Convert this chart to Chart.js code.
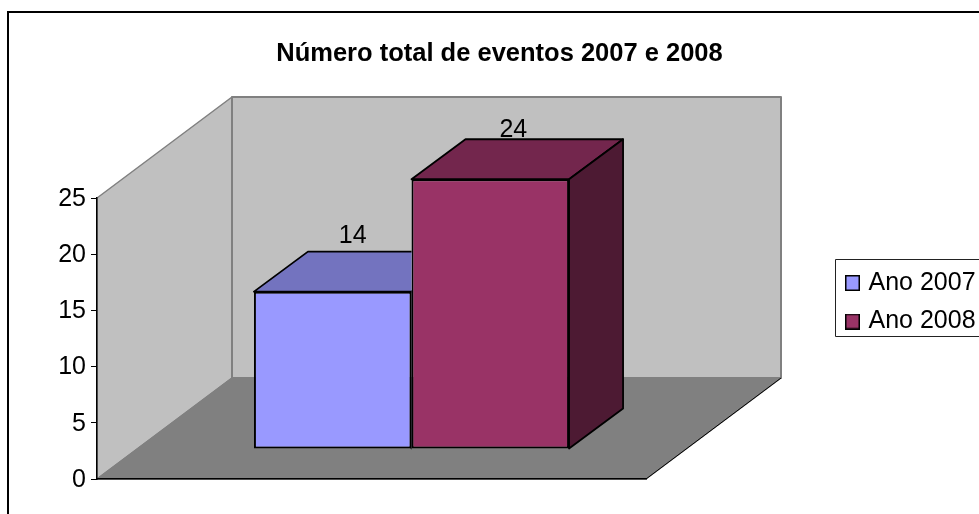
<!DOCTYPE html>
<html>
<head>
<meta charset="utf-8">
<style>
  html, body { margin: 0; background: #fff; }
  canvas { display: block; }
</style>
</head>
<body>
<canvas id="myChart" width="979" height="514"></canvas>
<script src="https://cdn.jsdelivr.net/npm/chart.js@4"></script>
<script>
const categories = [''];
const seriesNames = ['Ano 2007', 'Ano 2008'];
const values2007 = [14];
const values2008 = [24];
const yTicks = [0, 5, 10, 15, 20, 25];
const chartTitle = 'Número total de eventos 2007 e 2008';

const FONT = '"Liberation Sans", Arial, sans-serif';

// depth of the box: back wall, bar front, bar back (pixels from the front edge)
const WALL_DX = 135, WALL_DY = -101;
const BAR_DX = 40, BAR_DY = -30;
const BOX_DX = 54, BOX_DY = -40;

function poly(c, pts, fill, stroke, lw) {
    c.beginPath();
    pts.forEach((p, i) => i ? c.lineTo(p[0], p[1]) : c.moveTo(p[0], p[1]));
    c.closePath();
    if (fill) { c.fillStyle = fill; c.fill(); }
    if (stroke) { c.strokeStyle = stroke; c.lineWidth = lw; c.lineJoin = 'round'; c.stroke(); }
}

// legend swatch, wider than the box Chart.js reserves so the text sits closer
function swatch(color) {
    const s = document.createElement('canvas');
    s.width = 15;
    s.height = 16;
    const c = s.getContext('2d');
    c.fillStyle = color;
    c.fillRect(0, 0, 15, 16);
    c.strokeStyle = '#000';
    c.lineWidth = 1.5;
    c.strokeRect(0.75, 0.75, 13.5, 14.5);
    return s;
}

const box3d = {
    id: 'box3d',
    afterLayout(chart) {
        // legend and title sit off the plot, like in the spreadsheet
        const l = chart.legend;
        l.left = 835.5; l.right = 979; l.top = 257; l.bottom = 400;
        const t = chart.titleBlock;
        t.left = 0; t.right = 999;
    },
    beforeDraw(chart) {
        const c = chart.ctx;
        const x0 = chart.scales.x.left, x1 = chart.scales.x.right;
        const y0 = chart.scales.y.getPixelForValue(yTicks[0]);
        const y1 = chart.scales.y.getPixelForValue(yTicks[yTicks.length - 1]);
        c.save();
        c.fillStyle = '#fff';
        c.fillRect(0, 0, chart.width, chart.height);
        // outer frame runs off the right and bottom of the picture
        c.strokeStyle = '#000';
        c.lineWidth = 2;
        c.strokeRect(8, 12, 1100, 700);
        // walls
        poly(c, [[x0, y0], [x0, y1], [x0 + WALL_DX, y1 + WALL_DY], [x0 + WALL_DX, y0 + WALL_DY]], '#c0c0c0', '#808080', 1.5);
        poly(c, [[x0 + WALL_DX, y0 + WALL_DY], [x0 + WALL_DX, y1 + WALL_DY], [x1 + WALL_DX, y1 + WALL_DY], [x1 + WALL_DX, y0 + WALL_DY]], '#c0c0c0', '#808080', 2);
        // floor
        poly(c, [[x0, y0], [x1, y0], [x1 + WALL_DX, y0 + WALL_DY], [x0 + WALL_DX, y0 + WALL_DY]], '#808080', '#808080', 1.5);
        c.strokeStyle = '#000';
        c.lineWidth = 1;
        c.beginPath();
        c.moveTo(x1, y0);
        c.lineTo(x1 + WALL_DX, y0 + WALL_DY);
        c.stroke();
        // legend box
        c.fillStyle = '#fff';
        c.strokeStyle = '#222';
        c.lineWidth = 1;
        c.fillRect(835.5, 259.5, 200, 77);
        c.strokeRect(835.5, 259.5, 200, 77);
        c.restore();
    },
    beforeDatasetDraw(chart) {
        chart.ctx.save();
        chart.ctx.translate(BAR_DX, BAR_DY);
    },
    afterDatasetDraw(chart, args) {
        const c = chart.ctx;
        const ds = chart.data.datasets[args.index];
        const next = chart.getDatasetMeta(args.index + 1);
        args.meta.data.forEach((bar, j) => {
            const l = bar.x - bar.width / 2, r = bar.x + bar.width / 2;
            c.save();
            // datasets paint last to first, keep this box behind its right neighbour
            if (args.index + 1 < chart.data.datasets.length) {
                c.beginPath();
                c.rect(0, 0, next.data[j].x - next.data[j].width / 2, chart.height);
                c.clip();
            }
            poly(c, [[l, bar.y], [r, bar.y], [r + BOX_DX, bar.y + BOX_DY], [l + BOX_DX, bar.y + BOX_DY]], ds.topColor, '#000', 1.8);
            poly(c, [[r, bar.y], [r + BOX_DX, bar.y + BOX_DY], [r + BOX_DX, bar.base + BOX_DY], [r, bar.base]], ds.sideColor, '#000', 1.8);
            c.restore();
        });
        c.restore();
    },
    afterDatasetsDraw(chart) {
        const c = chart.ctx;
        c.save();
        c.font = '25px ' + FONT;
        c.fillStyle = '#000';
        c.textAlign = 'center';
        c.textBaseline = 'alphabetic';
        chart.data.datasets.forEach((ds, i) => {
            const meta = chart.getDatasetMeta(i);
            meta.data.forEach((bar, j) => {
                c.fillText(String(ds.data[j]), bar.x + BAR_DX + ds.labelDx, bar.y + BAR_DY - ds.labelDy);
            });
        });
        c.restore();
    }
};

new Chart(document.getElementById('myChart'), {
    type: 'bar',
    data: {
        labels: categories,
        datasets: [
            {
                label: seriesNames[0],
                data: values2007,
                backgroundColor: '#9999ff',
                topColor: '#7373bf',
                sideColor: '#4d4d80',
                borderColor: '#000',
                borderWidth: 2,
                borderSkipped: false,
                clip: false,
                labelDx: 20,
                labelDy: 49
            },
            {
                label: seriesNames[1],
                data: values2008,
                backgroundColor: '#993366',
                topColor: '#73264d',
                sideColor: '#4d1a33',
                borderColor: '#000',
                borderWidth: 2,
                borderSkipped: false,
                clip: false,
                labelDx: 23,
                labelDy: 42
            }
        ]
    },
    options: {
        responsive: false,
        animation: false,
        layout: { padding: { left: 0, right: 333, top: 0, bottom: 35 } },
        datasets: { bar: { barPercentage: 1, categoryPercentage: 0.574 } },
        scales: {
            x: {
                grid: { display: false },
                border: { display: true, color: '#000', width: 1.5 },
                ticks: { display: false },
                afterFit(s) { s.height = 0; }
            },
            y: {
                min: yTicks[0],
                max: yTicks[yTicks.length - 1],
                afterFit(s) { s.width = 97; },
                grid: { drawOnChartArea: false, color: '#000', tickLength: 6, tickWidth: 1 },
                border: { display: true, color: '#000', width: 1.5 },
                ticks: {
                    stepSize: yTicks[1] - yTicks[0],
                    color: '#000',
                    padding: 5,
                    labelOffset: 1,
                    font: { family: FONT, size: 25 }
                }
            }
        },
        plugins: {
            title: {
                display: true,
                text: chartTitle,
                color: '#000',
                font: { family: FONT, size: 25.5, weight: 'bold' },
                padding: { top: 39, bottom: 128.4 }
            },
            legend: {
                position: 'chartArea',
                align: 'start',
                labels: {
                    color: '#000',
                    font: { family: FONT, size: 25 },
                    usePointStyle: true,
                    pointStyleWidth: 7,
                    padding: 13.5,
                    generateLabels(chart) {
                        return Chart.defaults.plugins.legend.labels.generateLabels(chart).map((item) => {
                            item.pointStyle = swatch(item.fillStyle);
                            return item;
                        });
                    }
                }
            },
            tooltip: { enabled: false }
        }
    },
    plugins: [box3d]
});
</script>
</body>
</html>
